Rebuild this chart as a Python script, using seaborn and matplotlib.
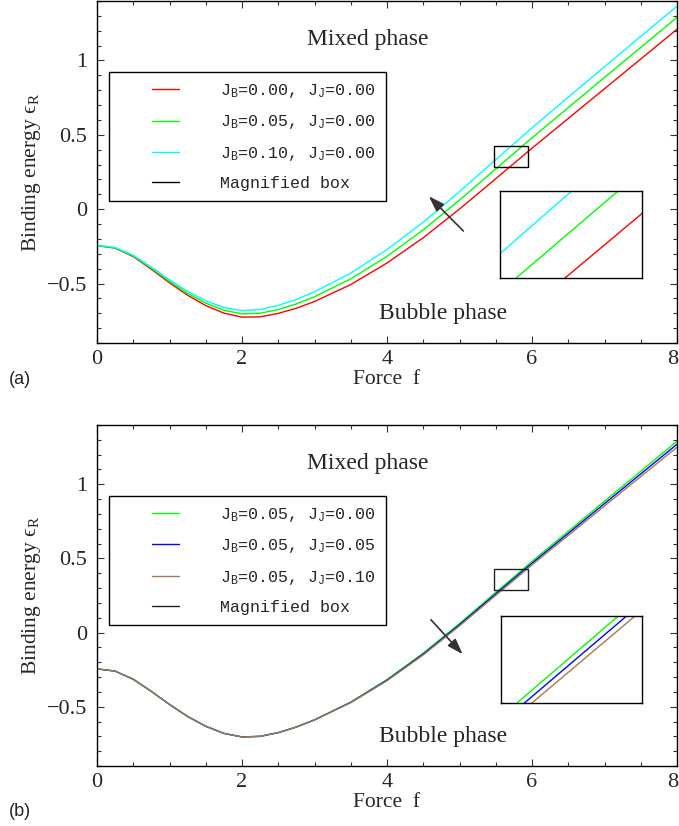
import numpy as np
import pandas as pd
import seaborn as sns
import matplotlib.pyplot as plt
from matplotlib.lines import Line2D
from matplotlib.legend_handler import HandlerLine2D
from matplotlib.patches import Rectangle
from matplotlib.ticker import MultipleLocator, FuncFormatter

sns.set_style("ticks")
plt.rcParams.update({
    "font.family": ["Liberation Serif", "DejaVu Serif"],
    "mathtext.fontset": "custom",
    "mathtext.rm": "Liberation Serif",
    "mathtext.it": "Liberation Serif:italic",
    "mathtext.bf": "Liberation Serif:bold",
    "mathtext.tt": "Liberation Mono",
    "axes.edgecolor": "black",
    "axes.linewidth": 1.0,
})

# force grid and binding energies
force = [0, 0.25, 0.5, 0.75, 1.0, 1.25, 1.5, 1.75, 2.0, 2.25, 2.5, 2.75, 3.0,
         3.5, 4.0, 4.5, 5.0, 5.5, 6.0, 6.5, 7.0, 7.5, 8.0]

# panel (a): J_J = 0, J_B varies
eps_b000 = [-0.245, -0.262, -0.319, -0.404, -0.495, -0.579, -0.648, -0.699, -0.726, -0.724,
            -0.701, -0.666, -0.621, -0.507, -0.362, -0.192, 0.001, 0.205, 0.41,
            0.61, 0.81, 1.01, 1.21]
eps_b005 = [-0.245, -0.260, -0.315, -0.397, -0.485, -0.566, -0.632, -0.680, -0.704, -0.700,
            -0.675, -0.637, -0.589, -0.469, -0.317, -0.139, 0.061, 0.271, 0.48,
            0.683, 0.886, 1.088, 1.29]
eps_b010 = [-0.242, -0.257, -0.31, -0.39, -0.475, -0.553, -0.616, -0.661, -0.682, -0.675,
            -0.647, -0.607, -0.556, -0.43, -0.272, -0.088, 0.118, 0.333, 0.547,
            0.753, 0.958, 1.162, 1.365]

# panel (b): J_B = 0.05, J_J varies
eps_j005 = [-0.245, -0.260, -0.315, -0.397, -0.485, -0.566, -0.632, -0.680, -0.704, -0.700,
            -0.675, -0.637, -0.589, -0.471, -0.321, -0.145, 0.053, 0.261, 0.468,
            0.669, 0.87, 1.07, 1.27]
eps_j010 = [-0.245, -0.260, -0.315, -0.397, -0.485, -0.566, -0.632, -0.680, -0.704, -0.700,
            -0.675, -0.637, -0.589, -0.473, -0.325, -0.151, 0.045, 0.251, 0.456,
            0.655, 0.854, 1.052, 1.25]

labels_a = [r"J$_\mathtt{B}$=0.00, J$_\mathtt{J}$=0.00",
            r"J$_\mathtt{B}$=0.05, J$_\mathtt{J}$=0.00",
            r"J$_\mathtt{B}$=0.10, J$_\mathtt{J}$=0.00"]
labels_b = [r"J$_\mathtt{B}$=0.05, J$_\mathtt{J}$=0.00",
            r"J$_\mathtt{B}$=0.05, J$_\mathtt{J}$=0.05",
            r"J$_\mathtt{B}$=0.05, J$_\mathtt{J}$=0.10"]
colors_a = ["#ff0000", "#00ff00", "#00ffff"]
colors_b = ["#00ff00", "#0000ff", "#a87850"]

box_x = (5.48, 5.95)
box_y = (0.285, 0.426)


class RightLine(HandlerLine2D):
    # gnuplot style key: short sample sitting next to the text
    def get_xdata(self, legend, xdescent, ydescent, width, height, fontsize):
        x = np.array([width - 1.62 * fontsize, width]) - xdescent
        return x, x


def long_df(series, labels):
    return pd.DataFrame({
        "f": force * len(series),
        "eps": [v for s in series for v in s],
        "case": [lab for lab, s in zip(labels, series) for _ in s],
    })


def fmt(v, pos):
    return f"{v:g}".replace("-", "\u2212")


def fmt_x(v, pos):
    # the last label is drawn separately so it stays on the canvas
    return "" if v >= 8 else fmt(v, pos)


def panel(ax, inset_rect, series, labels, colors, box_col, arrow_from, arrow_to):
    df = long_df(series, labels)
    pal = dict(zip(labels, colors))
    sns.lineplot(data=df, x="f", y="eps", hue="case", hue_order=labels, palette=pal,
                 estimator=None, legend=False, lw=1.0, ax=ax)
    ax.set_xlim(0, 8)
    ax.set_ylim(-0.9, 1.4)
    ax.xaxis.set_major_locator(MultipleLocator(2))
    ax.xaxis.set_minor_locator(MultipleLocator(0.5))
    ax.yaxis.set_major_locator(MultipleLocator(0.5))
    ax.yaxis.set_minor_locator(MultipleLocator(0.1))
    ax.xaxis.set_major_formatter(FuncFormatter(fmt_x))
    ax.yaxis.set_major_formatter(FuncFormatter(fmt))
    ax.tick_params(which="both", direction="in", top=True, right=True,
                   color="#333333", width=0.8, labelsize=16)
    ax.tick_params(which="major", length=5)
    ax.tick_params(which="minor", length=3)
    ax.tick_params(axis="x", pad=5)
    ax.tick_params(axis="y", pad=7)
    ax.annotate("8", xy=(1, 0), xycoords="axes fraction", xytext=(1, -5.2),
                textcoords="offset points", ha="right", va="top", fontsize=16)
    ax.set_xlabel("Force  f", fontsize=15.5, labelpad=1)
    ax.set_ylabel("Binding energy \u03f5$_\\mathrm{R}$", fontsize=15.5, labelpad=3)

    ax.add_patch(Rectangle((box_x[0], box_y[0]), box_x[1] - box_x[0], box_y[1] - box_y[0],
                           fill=False, ec=box_col, lw=1.0, zorder=5))
    ax.text(3.74, 1.14, "Mixed phase", fontsize=17, ha="center", va="center")
    ax.text(4.77, -0.70, "Bubble phase", fontsize=17, ha="center", va="center")
    ax.annotate("", xy=arrow_to, xytext=arrow_from,
                arrowprops=dict(arrowstyle="-|>,head_length=0.6,head_width=0.2",
                                color="#333333", lw=1.2, mutation_scale=16))

    handles = [Line2D([], [], color=c, lw=1.0) for c in colors]
    handles.append(Line2D([], [], color=box_col, lw=1.0))
    leg = ax.legend(handles, labels + ["Magnified box"], loc="upper left",
                    bbox_to_anchor=(0.0207, 0.792), borderaxespad=0,
                    prop={"family": "Liberation Mono", "size": 12},
                    handlelength=3.6, handletextpad=2.45, borderpad=0.6,
                    labelspacing=0.8, fancybox=False, framealpha=1,
                    edgecolor="black", handler_map={Line2D: RightLine()})
    leg.get_frame().set_linewidth(1.0)

    ins = fig.add_axes(inset_rect)
    sns.lineplot(data=df, x="f", y="eps", hue="case", hue_order=labels, palette=pal,
                 estimator=None, legend=False, lw=1.0, ax=ins)
    ins.set_xlim(*box_x)
    ins.set_ylim(*box_y)
    ins.set_xticks([])
    ins.set_yticks([])
    ins.set_xlabel("")
    ins.set_ylabel("")
    for sp in ins.spines.values():
        sp.set_color("black")
        sp.set_linewidth(1.0)


W, H = 679, 826
fig = plt.figure(figsize=(W / 100, H / 100), dpi=100)
ax_a = fig.add_axes([97 / W, 1 - 343 / H, 580 / W, 342 / H])
ax_b = fig.add_axes([97 / W, 1 - 766 / H, 580 / W, 341 / H])

panel(ax_a, [500 / W, 1 - 278 / H, 142 / W, 87 / H],
      [eps_b000, eps_b005, eps_b010], labels_a, colors_a, "black",
      (5.08, -0.16), (4.55, 0.10))
panel(ax_b, [501 / W, 1 - 703 / H, 141 / W, 87 / H],
      [eps_b005, eps_j005, eps_j010], labels_b, colors_b, "#222222",
      (4.58, 0.10), (5.07, -0.16))

fig.text(20 / W, 1 - 380 / H, "(a)", family="Liberation Sans", fontsize=13,
         ha="center", va="center")
fig.text(20 / W, 1 - 812 / H, "(b)", family="Liberation Sans", fontsize=13,
         ha="center", va="center")

fig.savefig("out.png", dpi=100)
